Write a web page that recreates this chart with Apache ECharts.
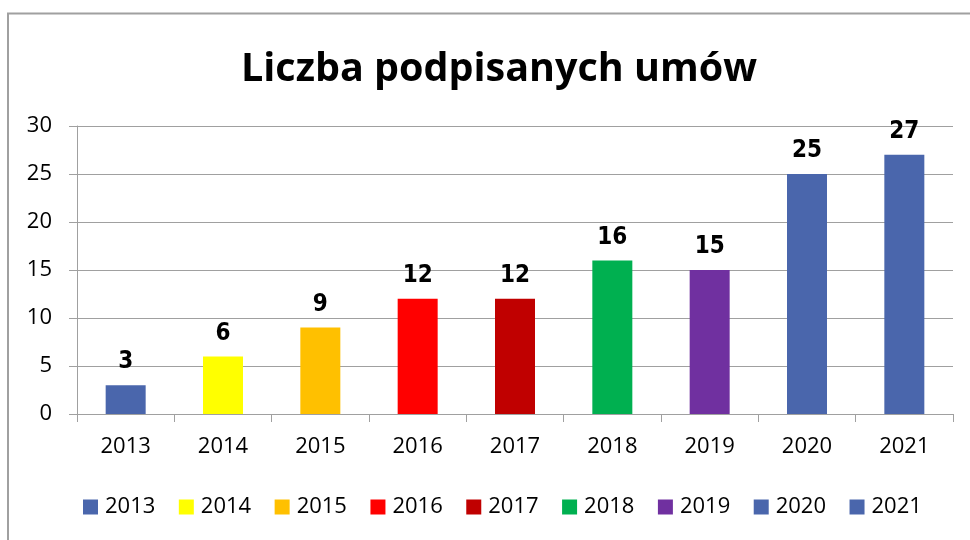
<!DOCTYPE html>
<html>
<head>
<meta charset="utf-8">
<script src="https://cdn.jsdelivr.net/npm/echarts@6/dist/echarts.min.js"></script>
<style>
  html, body { margin: 0; padding: 0; background: #fff; }
  #chart { width: 970px; height: 540px; }
</style>
</head>
<body>
<div id="chart"></div>
<script>
// lata i liczba umów
const years = ['2013', '2014', '2015', '2016', '2017', '2018', '2019', '2020', '2021']
const contracts = [3, 6, 9, 12, 12, 16, 15, 25, 27]
const barColors = ['#4A66AC', '#FFFF00', '#FFC000', '#FF0000', '#C00000', '#00B050', '#7030A0', '#4A66AC', '#4A66AC']

const axisFont = '"Open Sans", sans-serif'
const gridGray = '#A0A0A0'

// jedna seria na rok, zeby legenda miala osobne kolory
const series = years.map((year, i) => ({
  name: year,
  type: 'bar',
  stack: 'all',
  barWidth: 40,
  itemStyle: { color: barColors[i] },
  label: {
    show: true,
    position: 'top',
    distance: 11,
    fontFamily: '"Liberation Sans Narrow", "DejaVu Sans Condensed", sans-serif',
    fontWeight: 'bold',
    fontSize: 24,
    color: '#000'
  },
  data: contracts.map((v, j) => (j === i ? v : '-'))
}))

const chart = echarts.init(document.getElementById('chart'))
chart.setOption({
  animation: false,
  title: {
    text: 'Liczba podpisanych umów',
    left: 236,
    top: 45,
    textStyle: {
      fontFamily: axisFont,
      fontWeight: 'bold',
      fontSize: 39.5,
      color: '#000'
    }
  },
  graphic: [
    {
      type: 'rect',
      shape: { x: 8, y: 13.5, width: 1000, height: 600 },
      style: { fill: 'none', stroke: '#A0A0A0', lineWidth: 2 },
      silent: true
    }
  ],
  legend: {
    left: 78,
    top: 491,
    itemWidth: 15,
    itemHeight: 15,
    itemGap: 23.5,
    icon: 'rect',
    textStyle: {
      fontFamily: axisFont,
      fontSize: 22,
      color: '#000',
      padding: [0, 0, 0, 2]
    },
    data: years
  },
  grid: {
    left: 77,
    right: 17,
    top: 126,
    bottom: 126
  },
  xAxis: {
    type: 'category',
    data: years,
    axisLine: { lineStyle: { color: gridGray, width: 1 } },
    axisTick: { show: true, length: 8, lineStyle: { color: gridGray } },
    axisLabel: {
      margin: 22,
      fontFamily: axisFont,
      fontSize: 22,
      color: '#000'
    }
  },
  yAxis: {
    type: 'value',
    min: 0,
    max: 30,
    interval: 5,
    axisLine: { show: true, lineStyle: { color: gridGray, width: 1 } },
    axisTick: { show: true, length: 8, lineStyle: { color: gridGray } },
    splitLine: { lineStyle: { color: gridGray, width: 1 } },
    axisLabel: {
      margin: 25,
      fontFamily: axisFont,
      fontSize: 22,
      color: '#000'
    }
  },
  series: series
})
</script>
</body>
</html>
